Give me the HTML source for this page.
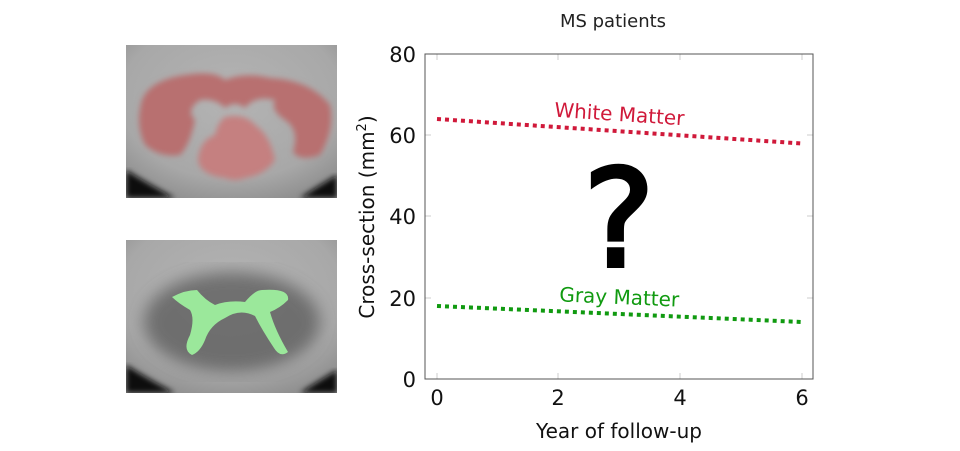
<!DOCTYPE html>
<html><head><style>
body{margin:0;background:#fff;width:960px;height:447px;overflow:hidden;font-family:"DejaVu Sans","Liberation Sans",sans-serif;}
</style></head><body>
<svg width="960" height="447" viewBox="0 0 960 447" xmlns="http://www.w3.org/2000/svg">
<defs>
<radialGradient id="g1" cx="0.5" cy="0.35" r="0.75">
<stop offset="0" stop-color="#b4b4b4"/><stop offset="0.7" stop-color="#a8a8a8"/><stop offset="1" stop-color="#8a8a8a"/>
</radialGradient>
<filter id="bl"><feGaussianBlur stdDeviation="3"/></filter>
<filter id="bl2"><feGaussianBlur stdDeviation="8"/></filter>
<clipPath id="c1"><rect x="126" y="45" width="211" height="153"/></clipPath>
<clipPath id="c2"><rect x="126" y="240" width="211" height="153"/></clipPath>
</defs>
<g clip-path="url(#c1)">
<rect x="126" y="45" width="211" height="153" fill="url(#g1)"/>
<path d="M126 170 Q150 185 175 198 L126 198Z" fill="#111" filter="url(#bl)"/>
<path d="M337 175 Q315 188 300 198 L337 198Z" fill="#111" filter="url(#bl)"/>
<path d="M142 100 Q150 80 185 75 Q215 70 225 80 Q245 72 270 78 Q310 80 330 105 Q335 130 320 155 Q300 162 293 152 Q300 130 285 120 Q270 110 275 100 Q255 95 245 108 Q235 100 225 108 Q215 98 200 100 Q185 110 195 120 Q190 145 180 155 Q160 158 145 145 Q135 125 142 100Z" fill="#b87070" filter="url(#bl)"/>
<path d="M225 117 Q245 113 255 125 Q270 135 275 160 Q265 175 245 178 Q235 182 225 178 Q200 175 198 160 Q200 140 215 135 Q218 122 225 117Z" fill="#c58080" filter="url(#bl)"/>
</g>
<g clip-path="url(#c2)">
<rect x="126" y="240" width="211" height="153" fill="url(#g1)"/>
<ellipse cx="232" cy="322" rx="88" ry="50" fill="#5a5a5a" filter="url(#bl2)" opacity="0.75"/>
<path d="M126 365 Q150 380 175 393 L126 393Z" fill="#111" filter="url(#bl)"/>
<path d="M337 370 Q315 383 300 393 L337 393Z" fill="#111" filter="url(#bl)"/>
<path d="M172 297 Q185 290 197 290 Q205 300 215 305 Q228 300 245 302 Q255 290 262 290 Q290 288 288 300 Q280 308 270 312 Q275 330 288 352 Q280 358 274 348 Q262 330 255 316 Q240 308 225 318 Q210 325 205 340 Q200 352 192 355 Q182 350 190 335 Q195 318 190 310 Q178 303 172 297Z" fill="#9be89b"/>
</g>
<text x="613" y="27" font-size="18" text-anchor="middle" fill="#222">MS patients</text>
<g stroke="#ccc" stroke-width="1">
<line x1="437" y1="54" x2="437" y2="60"/><line x1="558" y1="54" x2="558" y2="60"/><line x1="680" y1="54" x2="680" y2="60"/><line x1="802" y1="54" x2="802" y2="60"/>
<line x1="437" y1="373" x2="437" y2="379"/><line x1="558" y1="373" x2="558" y2="379"/><line x1="680" y1="373" x2="680" y2="379"/><line x1="802" y1="373" x2="802" y2="379"/>
<line x1="425" y1="135" x2="431" y2="135"/><line x1="425" y1="216" x2="431" y2="216"/><line x1="425" y1="298" x2="431" y2="298"/>
<line x1="807" y1="135" x2="813" y2="135"/><line x1="807" y1="216" x2="813" y2="216"/><line x1="807" y1="298" x2="813" y2="298"/>
</g>
<rect x="425" y="54" width="388" height="325" fill="none" stroke="#555" stroke-width="1"/>
<g font-size="21" fill="#111">
<text x="416" y="387" text-anchor="end">0</text>
<text x="416" y="306" text-anchor="end">20</text>
<text x="416" y="224" text-anchor="end">40</text>
<text x="416" y="143" text-anchor="end">60</text>
<text x="416" y="62" text-anchor="end">80</text>
<text x="437" y="405" text-anchor="middle">0</text>
<text x="558" y="405" text-anchor="middle">2</text>
<text x="680" y="405" text-anchor="middle">4</text>
<text x="802" y="405" text-anchor="middle">6</text>
</g>
<text x="619" y="438" font-size="20" text-anchor="middle" fill="#111">Year of follow-up</text>
<text transform="translate(374 217) rotate(-90)" font-size="20" text-anchor="middle" fill="#111">Cross-section (mm<tspan dy="-8" font-size="13">2</tspan><tspan dy="8">)</tspan></text>
<line x1="437" y1="119" x2="802" y2="143.5" stroke="#d0193a" stroke-width="4" stroke-dasharray="4 4"/>
<line x1="437" y1="306" x2="802" y2="322" stroke="#109a10" stroke-width="4" stroke-dasharray="4 4"/>
<text x="619" y="121" font-size="20" text-anchor="middle" fill="#d0193a" transform="rotate(3.8 619 121)">White Matter</text>
<text x="619" y="304" font-size="20" text-anchor="middle" fill="#109a10" transform="rotate(2.5 619 304)">Gray Matter</text>
<text x="619" y="266" font-size="135" font-weight="normal" text-anchor="middle" fill="#000" stroke="#000" stroke-width="4">?</text>
</svg>
</body></html>
